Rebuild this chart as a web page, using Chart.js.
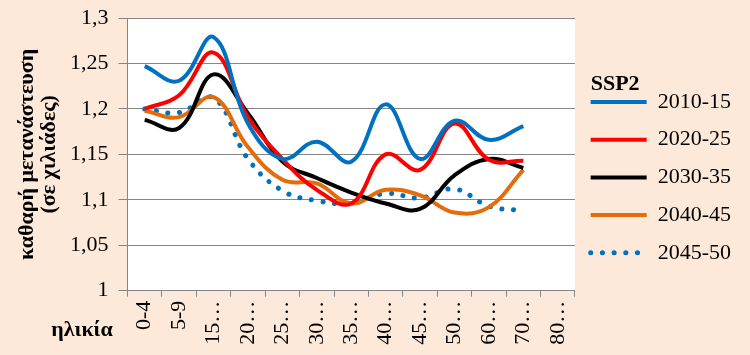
<!DOCTYPE html>
<html>
<head>
<meta charset="utf-8">
<script src="https://cdn.jsdelivr.net/npm/chart.js@4"></script>
<style>
  html, body { margin: 0; padding: 0; background: #fde9d9; }
  #wrap { width: 750px; height: 355px; }
</style>
</head>
<body>
<div id="wrap"><canvas id="c" width="750" height="355"></canvas></div>
<script>
const categories = ['0-4', '5-9', '15…', '20…', '25…', '30…', '35…', '40…', '45…', '50…', '60…', '70…', '80…'];
const seriesNames = ['2010-15', '2020-25', '2030-35', '2040-45', '2045-50'];
const s2010_15 = [1.247, 1.231, 1.279, 1.184, 1.145, 1.164, 1.142, 1.205, 1.145, 1.187, 1.166, 1.181];
const s2020_25 = [1.200, 1.215, 1.262, 1.191, 1.145, 1.111, 1.096, 1.150, 1.133, 1.184, 1.144, 1.143];
const s2030_35 = [1.188, 1.179, 1.238, 1.195, 1.142, 1.124, 1.108, 1.096, 1.090, 1.127, 1.145, 1.135];
const s2040_45 = [1.198, 1.191, 1.213, 1.158, 1.122, 1.118, 1.096, 1.111, 1.105, 1.086, 1.092, 1.133];
const s2045_50 = [1.200, 1.196, 1.212, 1.145, 1.110, 1.099, 1.096, 1.107, 1.102, 1.112, 1.093, 1.088];
const yMin = 1, yMax = 1.3, yStep = 0.05;
const yTitle = ['καθαρή μετανάστευση', '(σε χιλιάδες)'];
const xTitle = 'ηλικία';
const legendTitle = 'SSP2';

const FONT = "'Liberation Serif', 'Times New Roman', serif";
const GRID = '#868686';

const bgPlugin = {
  id: 'bg',
  beforeDraw(chart) {
    const {ctx, chartArea: a} = chart;
    ctx.save();
    ctx.fillStyle = '#fde9d9';
    ctx.fillRect(0, 0, chart.width, chart.height);
    ctx.fillStyle = '#ffffff';
    ctx.fillRect(a.left, a.top, a.right - a.left, a.bottom - a.top);
    ctx.restore();
  },
  afterDraw(chart) {
    const ctx = chart.ctx;
    const L = chart.legend;
    ctx.save();
    ctx.font = 'bold 22px ' + FONT;
    ctx.fillStyle = '#000';
    ctx.textAlign = 'center';
    ctx.textBaseline = 'middle';
    ctx.fillText(xTitle, 82, 330);
    // legend title, aligned with the legend samples
    const hb = L.legendHitBoxes[0];
    ctx.textAlign = 'left';
    ctx.fillText(legendTitle, hb.left, hb.top + hb.height / 2 - 18);
    ctx.restore();
  }
};

const mk = (label, data, color, dashed) => ({
  label, data,
  borderColor: color,
  backgroundColor: color,
  borderWidth: dashed ? 5 : 4,
  borderDash: dashed ? [0.1, 11.6] : [],
  borderCapStyle: dashed ? 'round' : 'butt',
  pointRadius: 0,
  pointHoverRadius: 0,
  tension: 0.4,
  fill: false
});

new Chart(document.getElementById('c'), {
  type: 'line',
  data: {
    labels: categories,
    datasets: [
      mk(seriesNames[0], s2010_15, '#0070c0', false),
      mk(seriesNames[1], s2020_25, '#ff0000', false),
      mk(seriesNames[2], s2030_35, '#000000', false),
      mk(seriesNames[3], s2040_45, '#e46c0a', false),
      mk(seriesNames[4], s2045_50, '#0070c0', true)
    ]
  },
  options: {
    responsive: false,
    animation: false,
    devicePixelRatio: 1,
    layout: { padding: { left: 0, right: 9, top: 3.4, bottom: 6.3 } },
    plugins: {
      tooltip: { enabled: false },
      legend: {
        position: 'right',
        align: 'center',
        title: {
          display: true, text: legendTitle, position: 'start', color: 'rgba(0,0,0,0)',
          font: { family: FONT, size: 22, weight: 'bold' },
          padding: { top: 0, bottom: -23.7 }
        },
        labels: {
          usePointStyle: true,
          pointStyleWidth: 56,
          boxHeight: 4,
          padding: 15.7,
          color: '#000',
          font: { family: FONT, size: 22 },
          generateLabels(chart) {
            return chart.data.datasets.map((ds, i) => ({
              text: ds.label,
              fillStyle: ds.borderColor,
              strokeStyle: ds.borderColor,
              lineWidth: ds.borderWidth,
              lineDash: ds.borderDash,
              lineCap: ds.borderCapStyle,
              pointStyle: 'line',
              fontColor: '#000',
              hidden: false,
              datasetIndex: i
            }));
          }
        }
      }
    },
    scales: {
      x: {
        offset: true,
        grid: { drawOnChartArea: false, color: GRID, tickLength: 6, offset: true },
        border: { color: GRID },
        ticks: {
          autoSkip: false, maxRotation: 90, minRotation: 90, padding: 4,
          color: '#000', font: { family: FONT, size: 22 }
        }
      },
      y: {
        min: yMin, max: yMax,
        grid: { color: GRID, tickLength: 9 },
        border: { color: GRID },
        ticks: {
          stepSize: yStep, padding: 10, color: '#000',
          font: { family: FONT, size: 22, lineHeight: 0.73 },
          callback: v => String(Number(v.toFixed(2))).replace('.', ',')
        },
        title: {
          display: true, text: yTitle, color: '#000',
          font: { family: FONT, size: 22, weight: 'bold', lineHeight: 1.0 },
          padding: { top: 16, bottom: 0 }
        }
      }
    }
  },
  plugins: [bgPlugin]
});
</script>
</body>
</html>
